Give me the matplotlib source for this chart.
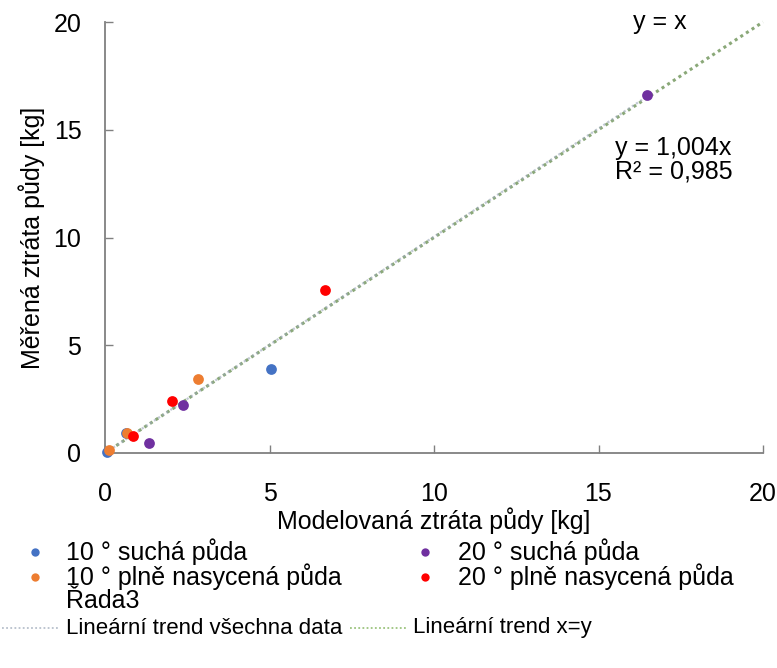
import numpy as np
import matplotlib
matplotlib.use("Agg")
import matplotlib.pyplot as plt
from matplotlib.lines import Line2D

plt.rcParams['font.family'] = ['Liberation Sans', 'DejaVu Sans']

# modelled vs measured soil loss [kg]
x_10_dry = [0.05, 0.64, 5.05]
y_10_dry = [0.03, 0.93, 3.88]
x_10_wet = [0.12, 0.67, 2.83]
y_10_wet = [0.14, 0.93, 3.45]
x_20_dry = [1.34, 2.37, 16.47]
y_20_dry = [0.46, 2.25, 16.62]
x_20_wet = [0.85, 2.04, 6.69]
y_20_wet = [0.79, 2.40, 7.56]

slope_all = 1.004
r2_all = 0.985
ticks = [0, 5, 10, 15, 20]

c_blue = '#4472C4'
c_orange = '#ED7D31'
c_purple = '#7030A0'
c_red = '#FF0000'
c_grey = '#9AA6B8'
c_green = '#8AA878'

fs = 18

fig = plt.figure(figsize=(7.77, 6.68), dpi=100)
ax = fig.add_axes([105 / 777, 1 - 453 / 668, 658 / 777, 431 / 668])

# trend lines
xt = np.array([0, 20])
ax.plot(xt, xt, ls=(0, (1, 1.2)), lw=2.2, color=c_green, zorder=2, clip_on=False)
xa = np.array([0, max(x_20_dry)])
ax.plot(xa, slope_all * xa, ls=(0, (1, 1.2)), lw=1.6, color=c_grey, zorder=2, alpha=0.6)

ms = 60
ax.scatter(x_10_dry, y_10_dry, s=ms, color=c_blue, zorder=3, clip_on=False, lw=0)
ax.scatter(x_10_wet, y_10_wet, s=ms, color=c_orange, zorder=3, clip_on=False, lw=0)
ax.scatter(x_20_dry, y_20_dry, s=ms, color=c_purple, zorder=3, clip_on=False, lw=0)
ax.scatter(x_20_wet, y_20_wet, s=ms, color=c_red, zorder=3, clip_on=False, lw=0)

ax.set_xlim(0, 20)
ax.set_ylim(0, 20)
ax.set_xticks(ticks)
ax.set_yticks(ticks)
for s in ['top', 'right']:
    ax.spines[s].set_visible(False)
for s in ['left', 'bottom']:
    ax.spines[s].set_color('#808080')
    ax.spines[s].set_linewidth(1.3)
ax.tick_params(direction='in', length=6, width=1, color='#808080',
               labelsize=fs, labelcolor='black')
ax.tick_params(axis='x', pad=21)
ax.tick_params(axis='y', pad=17)

ax.set_xlabel('Modelovaná ztráta půdy [kg]', fontsize=fs, labelpad=1)
ax.set_ylabel('Měřená ztráta půdy [kg]', fontsize=fs, labelpad=6)

ax.text(16.05, 20.0, 'y = x', fontsize=fs, va='center', ha='left')
ax.text(15.5, 13.6, 'y = {:.3f}x\nR² = {:.3f}'.format(slope_all, r2_all).replace('.', ','),
        fontsize=fs, va='center', ha='left', linespacing=1.0)

# legend drawn below the axes
def fy(py):
    return 1 - py / 668

def fx(px):
    return px / 777

rows = [
    (552, [(35, 66, c_blue, '10 ° suchá půda'), (425, 458, c_purple, '20 ° suchá půda')]),
    (577, [(35, 66, c_orange, '10 ° plně nasycená půda'), (425, 458, c_red, '20 ° plně nasycená půda')]),
]
for py, items in rows:
    for mx, tx, col, lab in items:
        fig.add_artist(Line2D([fx(mx)], [fy(py)], marker='o', ms=6, color=col,
                              mec='none', transform=fig.transFigure))
        fig.text(fx(tx), fy(py), lab, fontsize=fs, va='center', ha='left')
fig.text(fx(66), fy(601), 'Řada3', fontsize=fs, va='center', ha='left')

py = 628
fs_trend = 16
fig.add_artist(Line2D([fx(2), fx(60)], [fy(py), fy(py)], ls=(0, (1, 1.3)), lw=1.3,
                      color='#B8C0CC', transform=fig.transFigure))
fig.text(fx(66), fy(py), 'Lineární trend všechna data', fontsize=fs_trend, va='center', ha='left')
fig.add_artist(Line2D([fx(350), fx(408)], [fy(py), fy(py)], ls=(0, (1, 1.3)), lw=1.3,
                      color='#9CC47E', transform=fig.transFigure))
fig.text(fx(413), fy(py), 'Lineární trend x=y', fontsize=fs_trend, va='center', ha='left')

fig.savefig('out.png', dpi=100)
